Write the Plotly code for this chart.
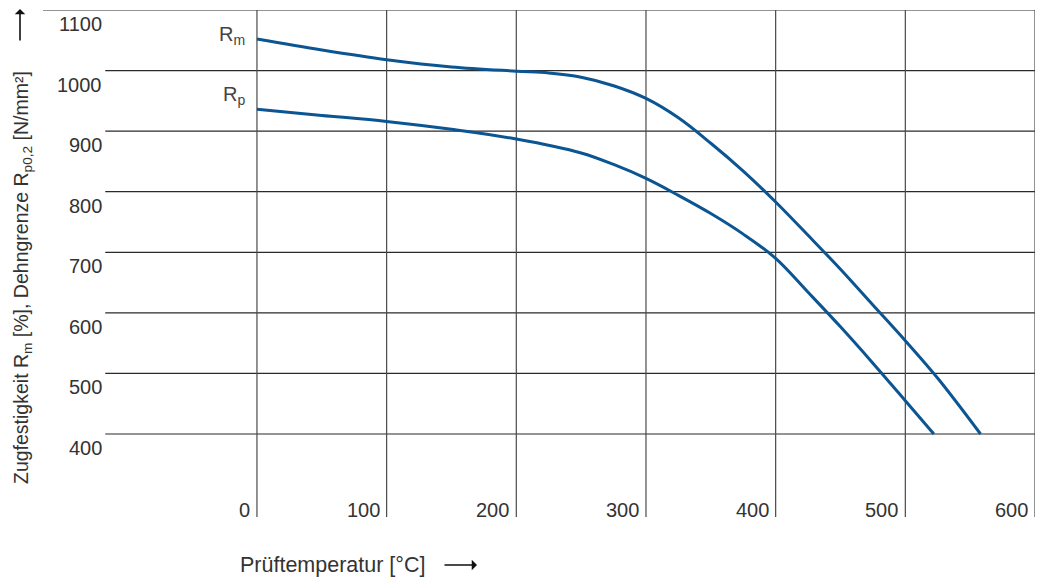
import plotly.graph_objects as go

# Data
temp_rm = [0, 50, 100, 150, 200, 225, 250, 275, 300, 325, 350, 375, 400, 425, 450, 475, 500, 525, 558]
rm = [1052, 1034, 1018, 1006, 999, 996, 989, 975, 954, 922, 880, 834, 783, 728, 672, 613, 554, 492, 400]

temp_rp = [0, 50, 100, 150, 200, 250, 275, 300, 325, 350, 375, 400, 425, 450, 475, 500, 522]
rp = [936, 926, 916, 903, 887, 864, 845, 822, 794, 764, 730, 690, 634, 577, 517, 455, 400]

x_ticks = [0, 100, 200, 300, 400, 500, 600]
y_ticks = [1100, 1000, 900, 800, 700, 600, 500, 400]

FONT = "Liberation Sans, Arial, Helvetica, sans-serif"
LINE_BLUE = "#0b5592"
TXT = "#333333"

W, H = 1038, 582
ML, MR, MT, MB = 43, 3, 10, 65
X_MIN, X_MAX = -165, 600
Y_MIN, Y_MAX = 263, 1100

plot_w = W - ML - MR
plot_h = H - MT - MB


def px_x(px):
    return (px - ML) / plot_w


def px_y(py):
    return (H - MB - py) / plot_h


fig = go.Figure()
for xs, ys in ((temp_rm, rm), (temp_rp, rp)):
    fig.add_trace(go.Scatter(x=xs, y=ys, mode="lines",
                             line=dict(color=LINE_BLUE, width=3, shape="spline", smoothing=1.0),
                             hoverinfo="skip", showlegend=False))

shapes = []
for v in y_ticks:
    x0 = X_MIN if v == y_ticks[0] else -117
    shapes.append(dict(type="line", xref="x", yref="y", x0=x0, x1=X_MAX, y0=v, y1=v,
                       line=dict(color="#2a2a2a", width=1.2), layer="below"))
for v in x_ticks:
    shapes.append(dict(type="line", xref="x", yref="y", x0=v, x1=v, y0=Y_MIN, y1=Y_MAX,
                       line=dict(color="#4a4a4a", width=1.2), layer="below"))

annotations = []
for v in y_ticks:
    annotations.append(dict(x=-118, y=v, xref="x", yref="y", text=str(v),
                            xanchor="right", yanchor="middle", yshift=-14, showarrow=False,
                            font=dict(family=FONT, size=20, color=TXT)))
for v in x_ticks:
    annotations.append(dict(x=v, y=275, xref="x", yref="y", text=str(v),
                            xanchor="right", yanchor="middle", xshift=-5, showarrow=False,
                            font=dict(family=FONT, size=20, color=TXT)))

annotations.append(dict(x=0, y=rm[0], xref="x", yref="y",
                        text="R<sub>m</sub>", xanchor="right", yanchor="middle",
                        xshift=-10, yshift=4, showarrow=False,
                        font=dict(family=FONT, size=20, color="#444444")))
annotations.append(dict(x=0, y=rp[0], xref="x", yref="y",
                        text="R<sub>p</sub>", xanchor="right", yanchor="middle",
                        xshift=-10, yshift=14, showarrow=False,
                        font=dict(family=FONT, size=20, color="#444444")))

# x axis title
annotations.append(dict(x=px_x(238), y=px_y(565), xref="paper", yref="paper",
                        text="Prüftemperatur [°C]", xanchor="left", yanchor="middle",
                        showarrow=False, font=dict(family=FONT, size=21.5, color=TXT)))
# x arrow
annotations.append(dict(x=px_x(477), y=px_y(565), xref="paper", yref="paper",
                        ax=-34, ay=0, axref="pixel", ayref="pixel", text="",
                        showarrow=True, arrowhead=1, arrowsize=1.1, arrowwidth=1.6,
                        arrowcolor="#111111"))
# y axis title
annotations.append(dict(x=px_x(22), y=px_y(278), xref="paper", yref="paper",
                        text="Zugfestigkeit R<sub>m</sub> [%], Dehngrenze R<sub>p0,2</sub> [N/mm²]",
                        textangle=-90, xanchor="center", yanchor="middle",
                        showarrow=False, font=dict(family=FONT, size=19.5, color=TXT)))
# y arrow
annotations.append(dict(x=px_x(20), y=px_y(9), xref="paper", yref="paper",
                        ax=0, ay=33, axref="pixel", ayref="pixel", text="",
                        showarrow=True, arrowhead=1, arrowsize=1.1, arrowwidth=1.6,
                        arrowcolor="#111111"))

fig.update_layout(
    width=W, height=H,
    margin=dict(l=ML, r=MR, t=MT, b=MB),
    paper_bgcolor="white", plot_bgcolor="white",
    xaxis=dict(range=[X_MIN, X_MAX], showgrid=False, zeroline=False, showticklabels=False,
               showline=False, ticks=""),
    yaxis=dict(range=[Y_MIN, Y_MAX], showgrid=False, zeroline=False, showticklabels=False,
               showline=False, ticks=""),
    shapes=shapes,
    annotations=annotations,
)

fig.write_html("out.html", config={"displayModeBar": False},
               post_script="document.body.style.margin='0px';document.body.style.overflow='hidden';")
